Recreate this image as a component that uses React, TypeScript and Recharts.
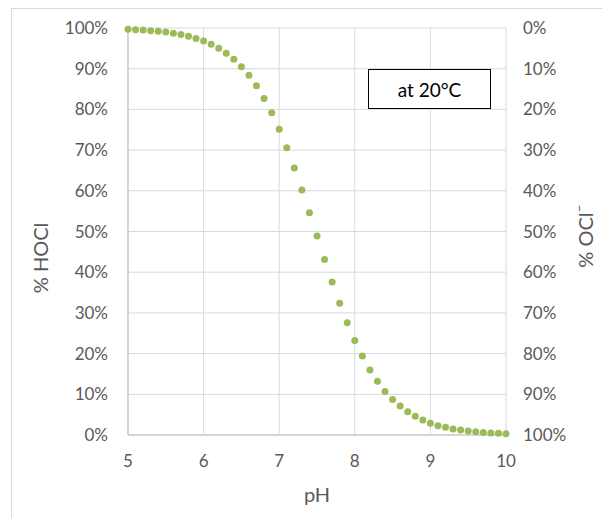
import { ScatterChart, Scatter, XAxis, YAxis, CartesianGrid, Label } from 'recharts';

// pH values 5.0 .. 10.0 in steps of 0.1
const phValues = [
  5.0, 5.1, 5.2, 5.3, 5.4, 5.5, 5.6, 5.7, 5.8, 5.9,
  6.0, 6.1, 6.2, 6.3, 6.4, 6.5, 6.6, 6.7, 6.8, 6.9,
  7.0, 7.1, 7.2, 7.3, 7.4, 7.5, 7.6, 7.7, 7.8, 7.9,
  8.0, 8.1, 8.2, 8.3, 8.4, 8.5, 8.6, 8.7, 8.8, 8.9,
  9.0, 9.1, 9.2, 9.3, 9.4, 9.5, 9.6, 9.7, 9.8, 9.9,
  10.0,
];

// % HOCl
const hoclPercent = [
  99.7, 99.6, 99.5, 99.3, 99.2, 99.0, 98.7, 98.4, 98.0, 97.4,
  96.8, 96.0, 95.0, 93.8, 92.3, 90.5, 88.4, 85.8, 82.7, 79.2,
  75.1, 70.6, 65.6, 60.2, 54.6, 48.9, 43.1, 37.6, 32.4, 27.6,
  23.2, 19.4, 16.0, 13.2, 10.7, 8.7, 7.1, 5.7, 4.6, 3.7,
  2.9, 2.3, 1.9, 1.5, 1.2, 1.0, 0.8, 0.6, 0.5, 0.4,
  0.3,
];

const xTicks = [5, 6, 7, 8, 9, 10];
const yTicks = [0, 10, 20, 30, 40, 50, 60, 70, 80, 90, 100];

const data = phValues.map((ph, i) => ({ ph, hocl: hoclPercent[i] }));

const font = 'Lato, "Noto Sans", sans-serif';
const tickStyle = { fill: '#595959', fontSize: 17, fontFamily: font };

const Dot = (props: any) => (
  <circle cx={props.cx} cy={props.cy} r={3.5} fill="#9BBB59" />
);

const NoDot = () => <g />;

export default function App() {
  return (
    <div
      style={{
        position: 'absolute',
        left: 0,
        top: 0,
        width: 602,
        height: 518,
        overflow: 'hidden',
        background: '#fff',
        fontFamily: font,
      }}
    >
      <div
        style={{
          position: 'absolute',
          left: 11,
          top: 8,
          width: 620,
          height: 540,
          border: '1px solid #d9d9d9',
        }}
      />
      <ScatterChart
        width={602}
        height={518}
        margin={{ top: 28, right: 0, bottom: 0, left: 0 }}
        style={{ position: 'absolute', left: 0, top: 0 }}
      >
        <CartesianGrid stroke="#d9d9d9" yAxisId="l" />
        <XAxis
          type="number"
          dataKey="ph"
          domain={[5, 10]}
          ticks={xTicks}
          height={83}
          tickLine={false}
          tickSize={0}
          tickMargin={20}
          axisLine={{ stroke: '#bfbfbf' }}
          tick={tickStyle}
        >
          <Label
            content={() => (
              <text x={317} y={502} textAnchor="middle" fill="#595959" fontSize={20} fontFamily={font}>
                pH
              </text>
            )}
          />
        </XAxis>
        <YAxis
          yAxisId="l"
          type="number"
          dataKey="hocl"
          domain={[0, 100]}
          ticks={yTicks}
          width={128}
          tickLine={false}
          tickSize={0}
          tickMargin={20}
          axisLine={{ stroke: '#bfbfbf' }}
          tick={tickStyle}
          tickFormatter={(v: number) => `${v}%`}
        >
          <Label
            content={() => (
              <text
                x={40}
                y={258}
                transform="rotate(-90 40 258)"
                textAnchor="middle"
                dominantBaseline="central"
                fill="#595959"
                fontSize={20}
                fontFamily={font}
              >
                % HOCl
              </text>
            )}
          />
        </YAxis>
        <YAxis
          yAxisId="r"
          orientation="right"
          type="number"
          dataKey="hocl"
          domain={[0, 100]}
          ticks={yTicks}
          width={96}
          tickLine={false}
          tickSize={0}
          tickMargin={17}
          axisLine={false}
          tick={{ ...tickStyle, textAnchor: 'start' }}
          tickFormatter={(v: number) => `${100 - v}%`}
        >
          <Label
            content={() => (
              <text
                x={585}
                y={236}
                transform="rotate(-90 585 236)"
                textAnchor="middle"
                dominantBaseline="central"
                fill="#595959"
                fontSize={20}
                fontFamily={font}
              >
                % OCl<tspan dy={-7} fontSize={14}>–</tspan>
              </text>
            )}
          />
        </YAxis>
        <Scatter yAxisId="l" data={data} shape={Dot} isAnimationActive={false} />
        <Scatter yAxisId="r" data={data} shape={NoDot} isAnimationActive={false} />
      </ScatterChart>
      <div
        style={{
          position: 'absolute',
          left: 368,
          top: 69,
          width: 121,
          height: 38,
          border: '1px solid #000',
          background: '#fff',
          display: 'flex',
          alignItems: 'center',
          justifyContent: 'center',
          fontSize: 19,
          color: '#000',
          fontFamily: font,
        }}
      >
        at 20°C
      </div>
    </div>
  );
}
